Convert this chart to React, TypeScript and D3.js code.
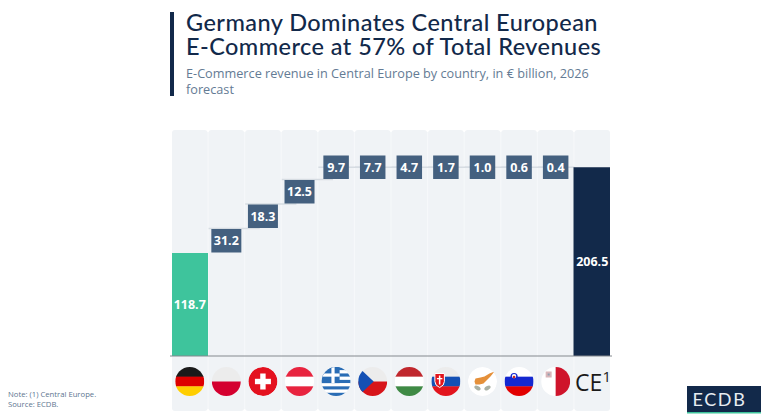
import React, { useEffect, useRef } from "react";
import * as d3 from "d3";

const countries = ["Germany", "Poland", "Switzerland", "Austria", "Greece", "Czechia", "Hungary", "Slovakia", "Cyprus", "Slovenia", "Malta", "CE"];
const revenues = [118.7, 31.2, 18.3, 12.5, 9.7, 7.7, 4.7, 1.7, 1.0, 0.6, 0.4, 206.5];
// the source draws the small steps as equal boxes, not to scale: row of each box
const stepRows = [0, 0, 1, 2, 3, 3, 3, 3, 3, 3, 3, 3];
const titleLines = ["Germany Dominates Central European", "E-Commerce at 57% of Total Revenues"];
const subtitleLines = ["E-Commerce revenue in Central Europe by country, in € billion, 2026", "forecast"];
const noteLines = ["Note: (1) Central Europe.", "Source: ECDB."];

const hStripes: Record<string, string[]> = {
  Germany: ["#1a1a1a", "#dd0000", "#ffce00"],
  Poland: ["#ececec", "#d4002f"],
  Austria: ["#e8243f", "#ffffff", "#e8243f"],
  Hungary: ["#c0272d", "#ffffff", "#3f8a45"],
  Slovakia: ["#ececec", "#1450b4", "#e2141d"],
  Slovenia: ["#ffffff", "#1428d0", "#e20000"],
};

const App: React.FC = () => {
  const svgRef = useRef<SVGSVGElement | null>(null);

  useEffect(() => {
    if (!svgRef.current) return;
    const svg = d3.select(svgRef.current);
    svg.selectAll("*").remove();

    const baseline = 356;
    const x = d3.scaleBand<string>().domain(countries).range([172, 610]).paddingInner(0.03);
    const yBar = d3.scaleLinear().domain([0, revenues[0]]).range([baseline, 253]);
    const yRow = d3.scaleLinear().domain([0, 4]).range([253, 155]);
    const cx = (c: string) => x(c)! + x.bandwidth() / 2;

    // title block
    svg.append("rect").attr("x", 170).attr("y", 12).attr("width", 4).attr("height", 84).attr("fill", "#12294a");
    const title = svg.append("text")
      .attr("font-family", "Lato").attr("font-size", 23.5).attr("font-weight", 500)
      .attr("letter-spacing", 0.44).attr("fill", "#12294a");
    title.selectAll("tspan").data(titleLines).enter().append("tspan")
      .attr("x", 186).attr("y", (_, i) => 31 + i * 24).text((d) => d);
    const subtitle = svg.append("text")
      .attr("font-family", "Open Sans").attr("font-size", 12.7).attr("fill", "#647b94");
    subtitle.selectAll("tspan").data(subtitleLines).enter().append("tspan")
      .attr("x", 186).attr("y", (_, i) => 78 + i * 15.5).text((d) => d);

    // column panels, the gaps between them are only faint in the source
    svg.append("rect").attr("x", 172).attr("y", 132).attr("width", 438).attr("height", 277).attr("fill", "#f6f8fa");
    svg.selectAll(".panel").data(countries).enter().append("rect")
      .attr("x", (d) => x(d)!).attr("y", 130).attr("width", x.bandwidth()).attr("height", 281).attr("rx", 3)
      .attr("fill", "#f0f3f6");

    // connectors between the steps
    const steps = countries.slice(1, 11);
    const rowTop = (i: number) => yRow(stepRows[i + 1] + 1);
    const rowBottom = (i: number) => yRow(stepRows[i + 1]);
    svg.selectAll(".link").data(steps).enter().append("line")
      .attr("x1", (d) => x(d)!)
      .attr("x2", (d) => x(d)! + x.step() * (d === "Malta" ? 1 : 1.4))
      .attr("y1", (_, i) => (i < 3 ? rowTop(i) : yRow(3.5)))
      .attr("y2", (_, i) => (i < 3 ? rowTop(i) : yRow(3.5)))
      .attr("stroke", "#d6dce2").attr("stroke-width", 1.5);

    // Germany and total bars
    svg.append("rect").attr("x", x("Germany")!).attr("y", yBar(revenues[0]))
      .attr("width", x.bandwidth() + 0.5).attr("height", baseline - yBar(revenues[0])).attr("fill", "#3ec49c");
    svg.append("rect").attr("x", x("CE")! - 1).attr("y", yRow(3.5))
      .attr("width", x.bandwidth() + 1).attr("height", baseline - yRow(3.5)).attr("fill", "#12294a");

    // step boxes, width follows the label
    const boxW = (v: number) => (v >= 10 ? 30 : 25.5);
    svg.selectAll(".box").data(steps).enter().append("rect")
      .attr("x", (d, i) => cx(d) - boxW(revenues[i + 1]) / 2)
      .attr("y", (_, i) => rowTop(i) + 0.5)
      .attr("width", (_, i) => boxW(revenues[i + 1]))
      .attr("height", (_, i) => rowBottom(i) - rowTop(i) - 1)
      .attr("fill", "#44607f");

    const labelFont = (s: d3.Selection<any, any, any, any>) =>
      s.attr("font-family", "Open Sans").attr("font-size", 12.5).attr("font-weight", 700)
        .attr("fill", "#ffffff").attr("text-anchor", "middle");
    svg.selectAll(".box-label").data(steps).enter().append("text")
      .attr("x", (d) => cx(d)).attr("y", (_, i) => (rowTop(i) + rowBottom(i)) / 2 + 4.5)
      .call(labelFont).text((_, i) => revenues[i + 1].toFixed(1));
    svg.append("text").attr("x", cx("Germany")).attr("y", 309).call(labelFont).text(revenues[0].toFixed(1));
    svg.append("text").attr("x", cx("CE")).attr("y", 266).call(labelFont).text(revenues[11].toFixed(1));

    // baseline
    svg.append("line").attr("x1", 170).attr("x2", 612).attr("y1", baseline).attr("y2", baseline)
      .attr("stroke", "#84898e").attr("stroke-width", 1);

    // flags
    const r = 14.5;
    const flagY = 381.5;
    const defs = svg.append("defs");
    countries.slice(0, 11).forEach((c) => {
      defs.append("clipPath").attr("id", `flag-${c}`).append("circle").attr("r", r);
      const outer = svg.append("g").attr("transform", `translate(${cx(c)},${flagY})`);
      const g = outer.append("g").attr("clip-path", `url(#flag-${c})`);
      const stripes = hStripes[c];
      if (stripes) {
        const sy = d3.scaleBand<number>().domain(d3.range(stripes.length)).range([-r, r]);
        stripes.forEach((col, i) => {
          g.append("rect").attr("x", -r).attr("y", sy(i)!).attr("width", 2 * r).attr("height", sy.bandwidth() + 0.3).attr("fill", col);
        });
      }
      const poly = (pts: [number, number][], fill: string, parent = g) =>
        parent.append("path").attr("d", d3.line()(pts)! + "Z").attr("fill", fill);

      if (c === "Switzerland") {
        g.append("circle").attr("r", r).attr("fill", "#e4111f");
        g.append("rect").attr("x", -8).attr("y", -2.7).attr("width", 16).attr("height", 5.4).attr("fill", "#fff");
        g.append("rect").attr("x", -2.7).attr("y", -8).attr("width", 5.4).attr("height", 16).attr("fill", "#fff");
      }
      if (c === "Greece") {
        const sy = d3.scaleBand<number>().domain(d3.range(9)).range([-r, r]);
        d3.range(9).forEach((i) => {
          g.append("rect").attr("x", -r).attr("y", sy(i)!).attr("width", 2 * r).attr("height", sy.bandwidth() + 0.2)
            .attr("fill", i % 2 ? "#ffffff" : "#2a6db5");
        });
        g.append("rect").attr("x", -r).attr("y", -r).attr("width", 18).attr("height", sy.bandwidth() * 5).attr("fill", "#2a6db5");
        g.append("rect").attr("x", -r).attr("y", -r + sy.bandwidth() * 2).attr("width", 18).attr("height", sy.bandwidth()).attr("fill", "#fff");
        g.append("rect").attr("x", -4.7).attr("y", -r).attr("width", 3.2).attr("height", sy.bandwidth() * 5).attr("fill", "#fff");
      }
      if (c === "Czechia") {
        g.append("rect").attr("x", -r).attr("y", -r).attr("width", 2 * r).attr("height", r).attr("fill", "#ececec");
        g.append("rect").attr("x", -r).attr("y", 0).attr("width", 2 * r).attr("height", r).attr("fill", "#d7141a");
        poly([[-r, -r], [1, 0], [-r, r]], "#1450b4");
      }
      if (c === "Cyprus") {
        g.append("circle").attr("r", r).attr("fill", "#ffffff");
        poly([[-8, 0], [-7, -3], [-2, -4], [2, -5], [7, -8], [12, -10], [8, -5], [5, -2], [1, 2], [-3, 3], [-7, 3]], "#e5903a");
        [-1, 1].forEach((s) => {
          g.append("ellipse").attr("cx", s * 5).attr("cy", 6.5).attr("rx", 3.4).attr("ry", 1.9)
            .attr("transform", `rotate(${s * -30} ${s * 5} 6.5)`).attr("fill", "#a9b0a4");
        });
      }
      if (c === "Slovenia") {
        g.append("circle").attr("cx", -5).attr("cy", -5).attr("r", 3.6).attr("fill", "#1428d0");
        g.append("circle").attr("cx", -5).attr("cy", -5.4).attr("r", 2.2).attr("fill", "#ffffff");
        g.append("circle").attr("cx", -5).attr("cy", -4.4).attr("r", 1.3).attr("fill", "#c8281e");
      }
      if (c === "Malta") {
        g.append("rect").attr("x", -r).attr("y", -r).attr("width", r).attr("height", 2 * r).attr("fill", "#ffffff");
        g.append("rect").attr("x", 0).attr("y", -r).attr("width", r).attr("height", 2 * r).attr("fill", "#cf142b");
        g.append("rect").attr("x", -10).attr("y", -10).attr("width", 6).attr("height", 6).attr("fill", "#d9b6ba");
        g.append("rect").attr("x", -8).attr("y", -8).attr("width", 2).attr("height", 2).attr("fill", "#8f9fb0");
      }
      if (c === "Slovakia") {
        g.append("path").attr("d", "M-11,-8H-1.5V0Q-1.5,4 -6.2,6Q-11,4 -11,0Z").attr("fill", "#e2141d").attr("stroke", "#fff");
        g.append("rect").attr("x", -7).attr("y", -6).attr("width", 1.5).attr("height", 9).attr("fill", "#fff");
        g.append("rect").attr("x", -9).attr("y", -3.5).attr("width", 5.5).attr("height", 1.3).attr("fill", "#fff");
      }
    });

    // CE label with footnote mark
    svg.append("text").attr("x", 575).attr("y", 390.5)
      .attr("font-family", "Open Sans").attr("font-size", 23).attr("fill", "#1a1a1a")
      .text("CE");
    svg.append("text").attr("x", 602.5).attr("y", 381.5)
      .attr("font-family", "Open Sans").attr("font-size", 15).attr("fill", "#1a1a1a")
      .text("1");

    // footer
    svg.selectAll(".note").data(noteLines).enter().append("text")
      .attr("x", 8).attr("y", (_, i) => 396.5 + i * 10.5)
      .attr("font-family", "Open Sans").attr("font-size", 7.7).attr("fill", "#5d7590").text((d) => d);

    svg.append("rect").attr("x", 687).attr("y", 386).attr("width", 74).attr("height", 27).attr("fill", "#12294a");
    svg.append("rect").attr("x", 687).attr("y", 412).attr("width", 74).attr("height", 1.5).attr("fill", "#3ec49c");
    svg.append("text").attr("x", 692.5).attr("y", 406)
      .attr("font-family", "Lato").attr("font-size", 18).attr("letter-spacing", 1.6).attr("fill", "#e8edf2").text("ECDB");
  }, []);

  return <svg ref={svgRef} width={768} height={419} style={{ position: "absolute", left: 0, top: 0, background: "#fff" }}></svg>;
};

export default App;
